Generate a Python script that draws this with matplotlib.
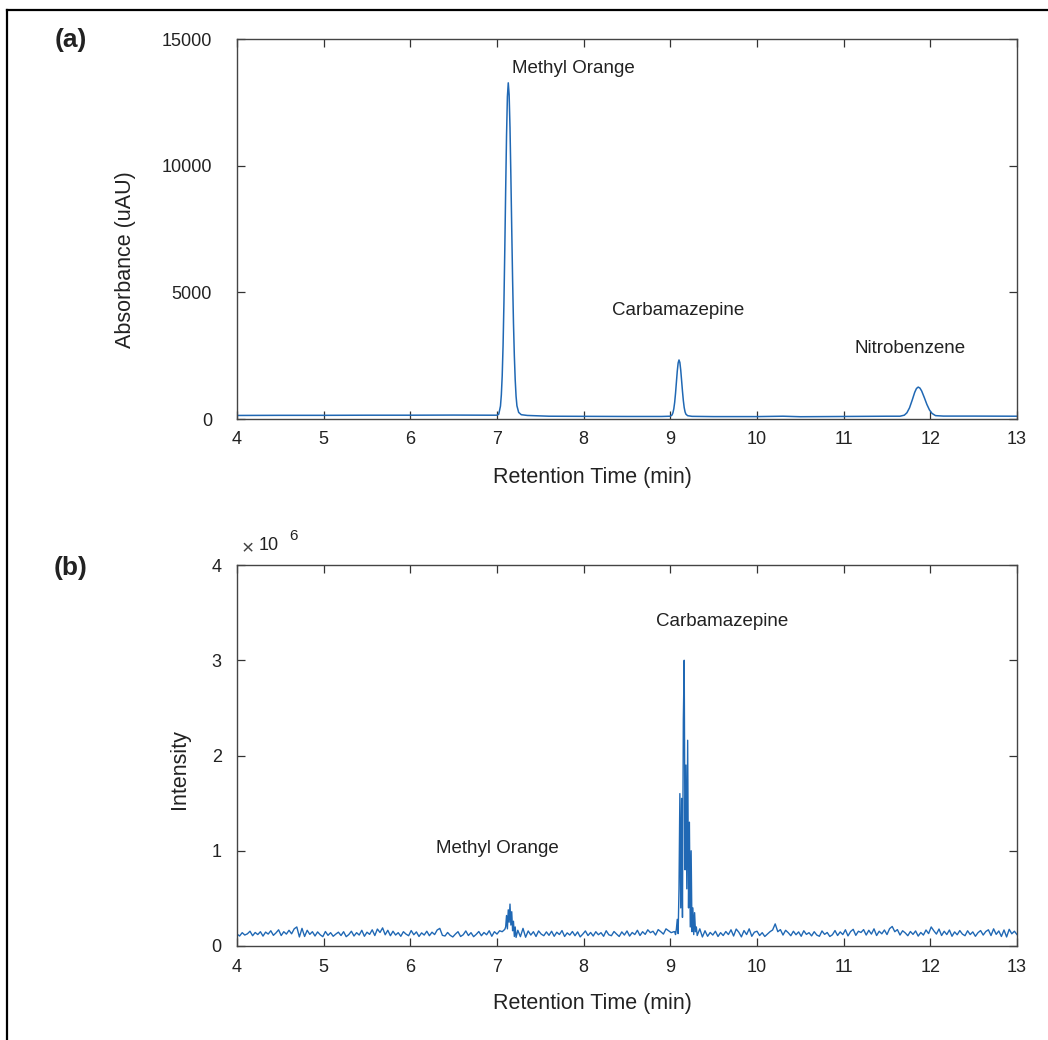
import numpy as np
import matplotlib.pyplot as plt
from matplotlib.lines import Line2D

plt.rcParams['font.family'] = ['Liberation Sans', 'DejaVu Sans']

# (a) UV absorbance trace
uv_time = [4.0, 4.5, 5.0, 5.5, 6.0, 6.5, 6.9,
           7.0, 7.02, 7.04, 7.05, 7.06, 7.07, 7.08, 7.09,
           7.10, 7.11, 7.12, 7.13, 7.14, 7.15, 7.16, 7.17, 7.18, 7.19, 7.20, 7.21, 7.22, 7.23,
           7.25, 7.28, 7.35, 7.6, 8.0, 8.5, 8.9, 9.0, 9.02,
           9.03, 9.04, 9.05, 9.06, 9.07, 9.08, 9.09, 9.10, 9.11, 9.12, 9.13, 9.14, 9.15, 9.16, 9.17, 9.18,
           9.20, 9.25, 9.5, 10.0, 10.3, 10.5, 11.0, 11.5,
           11.65, 11.70, 11.73, 11.76, 11.79, 11.82, 11.84, 11.86, 11.88, 11.90, 11.93, 11.96, 11.99, 12.02, 12.06, 12.15,
           12.5, 13.0]
uv_abs = [140, 145, 145, 150, 150, 155, 150,
          150, 190, 510, 950, 1700, 2900, 4580, 6700,
          9030, 11180, 12720, 13270, 12800, 11500, 9600, 7500, 5500, 3800, 2500, 1550, 900, 520,
          260, 170, 140, 110, 105, 100, 100, 110, 160,
          247, 400, 655, 1017, 1453, 1886, 2210, 2330, 2230, 1930, 1520, 1100, 730, 450, 280, 190,
          130, 105, 95, 95, 110, 90, 100, 110,
          110, 151, 247, 442, 738, 1055, 1204, 1260, 1220, 1106, 850, 577, 358, 220, 133, 115,
          115, 110]

# (b) MS intensity: baseline every 0.03 min (x1000)
ms_time = np.arange(4.0, 13.001, 0.03)
ms_base = [125, 105, 140, 115, 128, 155, 108, 142, 120, 150, 104, 146, 125, 160, 112, 138, 170, 110, 150, 125,
           165, 128, 180, 200, 95, 185, 100, 165, 122, 150, 105, 148, 118, 98, 152, 112, 140, 102, 125, 145,
           110, 150, 98, 120, 155, 105, 140, 115, 165, 102, 145, 122, 170, 110, 178, 142, 190, 118, 165, 108,
           155, 115, 140, 102, 150, 125, 108, 162, 118, 148, 100, 138, 115, 155, 108, 145, 120, 168, 185, 112,
           105, 142, 112, 95, 125, 150, 100, 118, 158, 110, 140, 98, 122, 152, 108, 142, 118, 160, 102, 150,
           125, 160, 150, 175, 200, 200, 200, 200, 165, 98, 185, 92, 158, 115, 150, 100, 158, 125, 108, 148,
           112, 155, 102, 145, 120, 162, 100, 138, 115, 152, 108, 148, 96, 125, 158, 110, 142, 105, 150, 118,
           140, 102, 160, 118, 108, 152, 125, 100, 148, 115, 158, 104, 142, 120, 165, 110, 150, 122, 170, 140,
           155, 115, 172, 150, 125, 180, 160, 140, 150, 150, 150, 150, 150, 150, 150, 150, 150, 150, 180, 95,
           160, 102, 142, 115, 155, 100, 140, 110, 152, 120, 170, 105, 178, 145, 96, 162, 120, 180, 102, 145,
           155, 110, 140, 100, 125, 150, 168, 232, 150, 172, 115, 165, 140, 108, 155, 118, 148, 102, 160, 122,
           140, 106, 150, 115, 102, 158, 122, 142, 100, 118, 162, 110, 148, 120, 170, 106, 152, 175, 112, 155,
           142, 172, 115, 165, 125, 180, 110, 155, 128, 168, 120, 182, 205, 150, 172, 115, 160, 138, 108, 152,
           122, 158, 104, 142, 115, 168, 130, 200, 160, 125, 178, 110, 155, 120, 168, 102, 148, 118, 162, 125,
           108, 160, 120, 148, 102, 140, 162, 115, 152, 170, 110, 180, 122, 158, 100, 168, 95, 175, 128, 155,
           120]

# peaks, every 0.01 min (x1000)
mo_time = np.arange(7.10, 7.225, 0.01)
mo_int = [200, 320, 180, 380, 250, 440, 220, 360, 160, 260, 100, 200, 90]
cbz_time = np.arange(9.05, 9.315, 0.01)
cbz_int = [150, 120, 180, 280, 130, 600, 1600, 400, 1550, 300, 2380, 3000, 800, 1900,
           600, 2160, 400, 1300, 200, 1000, 150, 400, 120, 350, 150, 200, 110]

keep = ~(((ms_time > 7.095) & (ms_time < 7.225)) | ((ms_time > 9.045) & (ms_time < 9.315)))
t_all = np.concatenate([ms_time[keep], mo_time, cbz_time])
i_all = np.concatenate([np.array(ms_base)[keep], mo_int, cbz_int]) * 1000.0
order = np.argsort(t_all)
t_all = t_all[order]
i_all = i_all[order]

line_col = '#2068b4'
W, H = 1048, 1040
fig = plt.figure(figsize=(W / 100, H / 100), dpi=100)
ax1 = fig.add_axes([237 / W, 1 - 419 / H, 780 / W, 380 / H])
ax2 = fig.add_axes([237 / W, 1 - 946 / H, 780 / W, 381 / H])

ax1.plot(uv_time, uv_abs, color=line_col, lw=1.1)
ax2.plot(t_all, i_all, color=line_col, lw=1.0)

for ax in (ax1, ax2):
    ax.set_xlim(4, 13)
    ax.set_xticks(range(4, 14))
    ax.tick_params(direction='in', length=5.5, width=0.9, top=True, right=True,
                   labelsize=13, labelcolor='#222222', color='#333333')
    ax.tick_params(axis='x', pad=9)
    for s in ax.spines.values():
        s.set_color('#444444')
        s.set_linewidth(1.0)

ax1.set_ylim(0, 15000)
ax1.set_yticks([0, 5000, 10000, 15000])
ax1.tick_params(axis='y', pad=18)
ax2.set_ylim(0, 4e6)
ax2.set_yticks([0, 1e6, 2e6, 3e6, 4e6])
ax2.set_yticklabels(['0', '1', '2', '3', '4'])
ax2.tick_params(axis='y', pad=11)

lab = dict(fontsize=15.5, color='#222222', ha='center', va='center')
fig.text(592 / W, 1 - 478 / H, 'Retention Time (min)', **lab)
fig.text(592 / W, 1 - 1003 / H, 'Retention Time (min)', **lab)
fig.text(125 / W, 1 - 260 / H, 'Absorbance (uAU)', rotation=90, **lab)
fig.text(180 / W, 1 - 769 / H, 'Intensity', rotation=90, **lab)

ann = dict(fontsize=13.5, color='#222222', ha='left', va='center')
ax1.text(7.17, 13850, 'Methyl Orange', **ann)
ax1.text(8.33, 4300, 'Carbamazepine', **ann)
ax1.text(11.13, 2800, 'Nitrobenzene', **ann)
ax2.text(6.30, 1.02e6, 'Methyl Orange', **ann)
ax2.text(8.83, 3.41e6, 'Carbamazepine', **ann)

fig.text(71 / W, 1 - 40 / H, '(a)', fontsize=19, fontweight='bold', color='#222222', ha='center', va='center')
fig.text(71 / W, 1 - 568 / H, '(b)', fontsize=19, fontweight='bold', color='#222222', ha='center', va='center')

# x10^6 multiplier
fig.text(248 / W, 1 - 549 / H, '\u00d7', fontsize=15, color='#444444', ha='center', va='center')
fig.text(269 / W, 1 - 546 / H, '10', fontsize=13, color='#222222', ha='center', va='center')
fig.text(293 / W, 1 - 536 / H, '6', fontsize=11, color='#222222', ha='center', va='center')

# outer frame (left and top edges)
fig.add_artist(Line2D([7 / W, 7 / W], [0, 1 - 10 / H], color='black', lw=1.6))
fig.add_artist(Line2D([7 / W, 1], [1 - 10 / H, 1 - 10 / H], color='black', lw=1.6))

fig.savefig('out.png', dpi=100)
